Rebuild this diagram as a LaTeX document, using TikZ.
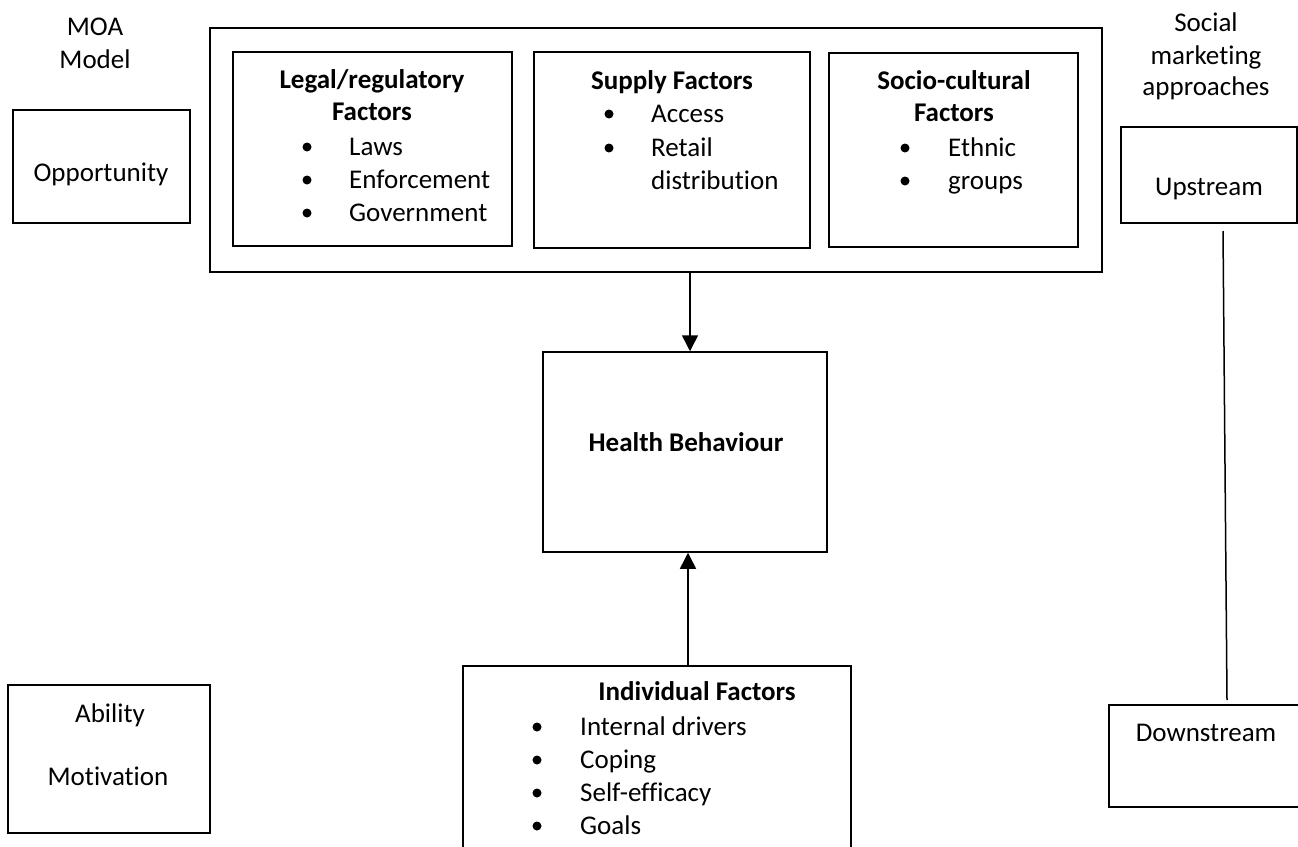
\documentclass[tikz,border=0pt]{standalone}
\usepackage{fontspec}
\setmainfont{Carlito}[Ligatures=NoCommon]
\usetikzlibrary{arrows.meta}
\begin{document}
\begin{tikzpicture}[x=1pt,y=-1pt,
  box/.style={draw, line width=1.5pt, inner sep=0pt},
  txt/.style={font=\fontsize{27}{33}\selectfont, inner sep=0pt, anchor=base},
  lt/.style={txt, anchor=base west},
  bt/.style={txt, font=\fontsize{27}{33}\selectfont\bfseries},
  dot/.style={circle, fill, inner sep=0pt, minimum size=9pt},
  link/.style={line width=1.5pt},
  arr/.style={line width=1.5pt, -{Triangle[length=16pt,width=16pt]}}]
\useasboundingbox (0,0) rectangle (1298,846);
\clip (0,0) rectangle (1298,846);

% ---- boxes ----
\node[box, minimum width=177pt, minimum height=113pt] (opp) at (101.5,166.5) {};
\node[box, minimum width=892pt, minimum height=244pt] (outer) at (656,150) {};
\node[box, minimum width=279pt, minimum height=194pt] (legal) at (372.5,149) {};
\node[box, minimum width=276pt, minimum height=196pt] (supply) at (672,150) {};
\node[box, minimum width=249pt, minimum height=194pt] (socio) at (953.5,150) {};
\node[box, minimum width=176pt, minimum height=96pt] (up) at (1209,175) {};
\node[box, minimum width=284pt, minimum height=200pt] (hb) at (685,452) {};
\node[box, minimum width=388pt, minimum height=240pt] (indiv) at (657,786) {};
\node[box, minimum width=202pt, minimum height=148pt] (abil) at (109,759) {};
\node[box, minimum width=220pt, minimum height=102pt] (down) at (1219,756) {};

% ---- left column ----
\node[txt] (moa1) at (95,35) {MOA};
\node[txt] (moa2) at (95,68) {Model};
\node[txt] (opptxt) at (101,181) {Opportunity};
\node[txt] (abiltxt) at (110,722) {Ability};
\node[txt] (mottxt) at (108,785) {Motivation};

% ---- legal ----
\node[bt] (lt1) at (372,88) {Legal/regulatory};
\node[bt] (lt2) at (372,120) {Factors};
\node[dot] (lb1) at (307,147) {};
\node[dot] (lb2) at (307,180) {};
\node[dot] (lb3) at (307,213) {};
\node[lt] (li1) at (349,155) {Laws};
\node[lt] (li2) at (349,188) {Enforcement};
\node[lt] (li3) at (349,221) {Government};

% ---- supply ----
\node[bt] (st1) at (672,89) {Supply Factors};
\node[dot] (sb1) at (609,114) {};
\node[dot] (sb2) at (609,148) {};
\node[lt] (si1) at (651,122) {Access};
\node[lt] (si2) at (651,156) {Retail};
\node[lt] (si3) at (651,189) {distribution};

% ---- socio ----
\node[bt] (ct1) at (954,89) {Socio-cultural};
\node[bt] (ct2) at (954,121) {Factors};
\node[dot] (cb1) at (905,148) {};
\node[dot] (cb2) at (905,181) {};
\node[lt] (ci1) at (948,156) {Ethnic};
\node[lt] (ci2) at (948,189) {groups};

% ---- right column ----
\node[txt] (sm1) at (1206,31) {Social};
\node[txt] (sm2) at (1206,64) {marketing};
\node[txt] (sm3) at (1206,95) {approaches};
\node[txt] (uptxt) at (1209,195) {Upstream};
\node[txt] (downtxt) at (1206,741) {Downstream};

% ---- health behaviour ----
\node[bt] (hbtxt) at (686,451) {Health Behaviour};

% ---- individual ----
\node[bt] (it1) at (697,700) {Individual Factors};
\node[dot] (ib1) at (537,727) {};
\node[dot] (ib2) at (537,760) {};
\node[dot] (ib3) at (537,793) {};
\node[dot] (ib4) at (537,826) {};
\node[lt] (ii1) at (580,735) {Internal drivers};
\node[lt] (ii2) at (580,768) {Coping};
\node[lt] (ii3) at (580,801) {Self-efficacy};
\node[lt] (ii4) at (580,834) {Goals};

% ---- connectors ----
\draw[arr] (outer.south -| 690,0) -- (hb.north -| 690,0);
\draw[arr] (indiv.north -| 688,0) -- (hb.south -| 688,0);
\coordinate (u1) at (1223,231);
\coordinate (d1) at (1227,700);
\draw[link] (u1) -- (d1);
\end{tikzpicture}
\end{document}
